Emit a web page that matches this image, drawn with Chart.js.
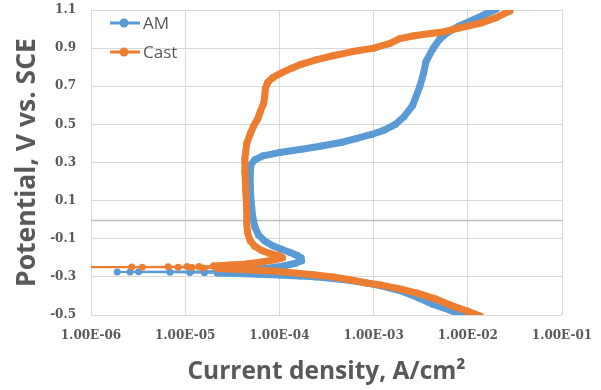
<!DOCTYPE html>
<html>
<head>
<meta charset="utf-8">
<title>Polarization curves</title>
<script src="https://cdn.jsdelivr.net/npm/chart.js@4.4.1/dist/chart.umd.min.js"></script>
<style>
  html, body { margin: 0; padding: 0; background: #ffffff; }
  #wrap { width: 601px; height: 390px; }
</style>
</head>
<body>
<div id="wrap"><canvas id="chart" width="601" height="390"></canvas></div>
<script>
// Potentiodynamic polarization data, in scan order (cathodic branch, then anodic branch)
const seriesNames = ['AM', 'Cast'];

const amCurrent = [
  9.0e-3, 6.5e-3, 4.3e-3, 3.0e-3, 1.9e-3, 1.2e-3, 8.5e-4, 5.5e-4, 3.7e-4, 2.4e-4,
  1.66e-4, 1.0e-4, 6.0e-5, 3.5e-5, 2.2e-5, 1.6e-5, 1.12e-5, 6.9e-6, 2.6e-6, 1.9e-6,
  3.2e-6, 1.15e-5, 1.6e-5, 2.3e-5, 3.5e-5, 5.5e-5, 8.0e-5, 1.1e-4, 1.45e-4, 1.72e-4,
  1.70e-4, 1.55e-4, 1.3e-4, 1.05e-4, 8.5e-5, 7.0e-5, 6.0e-5, 5.5e-5, 5.2e-5, 5.0e-5,
  4.9e-5, 4.9e-5, 5.0e-5, 5.5e-5, 6.7e-5, 1.0e-4, 1.66e-4, 2.7e-4, 4.5e-4, 6.5e-4,
  9.5e-4, 1.3e-3, 1.7e-3, 2.1e-3, 2.6e-3, 3.1e-3, 3.4e-3, 3.6e-3, 4.3e-3, 5.0e-3,
  6.0e-3, 8.0e-3, 1.1e-2, 1.5e-2, 2.0e-2
];
const amPotential = [
  -0.505, -0.475, -0.445, -0.41, -0.372, -0.347, -0.333, -0.318, -0.308, -0.300,
  -0.295, -0.290, -0.286, -0.282, -0.280, -0.278, -0.277, -0.276, -0.275, -0.274,
  -0.273, -0.272, -0.271, -0.269, -0.266, -0.261, -0.253, -0.243, -0.230, -0.215,
  -0.200, -0.188, -0.172, -0.155, -0.137, -0.112, -0.08, -0.04, 0.02, 0.10,
  0.18, 0.25, 0.29, 0.315, 0.335, 0.352, 0.368, 0.385, 0.405, 0.425,
  0.447, 0.47, 0.50, 0.54, 0.60, 0.70, 0.77, 0.83, 0.90, 0.945,
  0.98, 1.015, 1.045, 1.075, 1.105
];

const castCurrent = [
  1.35e-2, 1.0e-2, 6.5e-3, 4.5e-3, 2.9e-3, 1.8e-3, 1.2e-3, 8.5e-4, 5.6e-4, 3.7e-4,
  2.4e-4, 1.66e-4, 1.0e-4, 6.0e-5, 3.5e-5, 2.2e-5, 1.55e-5, 1.18e-5, 8.4e-6, 3.5e-6,
  4.0e-7, 2.7e-6, 6.6e-6, 1.05e-5, 1.4e-5, 2.0e-5, 3.0e-5, 4.5e-5, 6.5e-5, 9.0e-5,
  1.08e-4, 1.0e-4, 8.0e-5, 6.5e-5, 5.5e-5, 4.9e-5, 4.6e-5, 4.5e-5, 4.5e-5, 4.4e-5,
  4.3e-5, 4.3e-5, 4.5e-5, 4.9e-5, 5.3e-5, 5.9e-5, 6.3e-5, 6.8e-5, 7.0e-5, 7.1e-5,
  7.5e-5, 8.5e-5, 1.05e-4, 1.35e-4, 1.7e-4, 2.5e-4, 3.7e-4, 6.0e-4, 1.0e-3, 1.5e-3,
  1.9e-3, 2.7e-3, 4.0e-3, 5.5e-3, 8.0e-3, 1.35e-2, 2.0e-2, 2.8e-2
];
const castPotential = [
  -0.505, -0.48, -0.448, -0.415, -0.385, -0.36, -0.343, -0.332, -0.315, -0.30,
  -0.29, -0.282, -0.272, -0.265, -0.260, -0.256, -0.253, -0.251, -0.250, -0.249,
  -0.249, -0.248, -0.247, -0.246, -0.245, -0.243, -0.238, -0.232, -0.222, -0.210,
  -0.200, -0.190, -0.178, -0.162, -0.140, -0.11, -0.07, -0.02, 0.05, 0.15,
  0.25, 0.32, 0.40, 0.45, 0.49, 0.53, 0.57, 0.61, 0.65, 0.69,
  0.72, 0.745, 0.77, 0.795, 0.815, 0.84, 0.86, 0.882, 0.90, 0.925,
  0.95, 0.965, 0.977, 0.985, 1.005, 1.03, 1.06, 1.095
];

const xTickValues = [1e-6, 1e-5, 1e-4, 1e-3, 1e-2, 1e-1];
const xTickLabels = ['1.00E-06', '1.00E-05', '1.00E-04', '1.00E-03', '1.00E-02', '1.00E-01'];
const yTickValues = [-0.5, -0.3, -0.1, 0.1, 0.3, 0.5, 0.7, 0.9, 1.1];
const yTickLabels = ['-0.5', '-0.3', '-0.1', '0.1', '0.3', '0.5', '0.7', '0.9', '1.1'];

const seriesColors = ['#5B9BD5', '#ED7D31'];
const axisTextColor = '#595959';

function toPoints(xs, ys) {
  return xs.map((x, i) => ({ x: x, y: ys[i] }));
}

// Sparse readings near the corrosion potential are drawn with a thin line,
// the densely sampled parts of the scan merge into a thick band.
function segmentWidth(ctx) {
  return (ctx.p0.parsed.x < 2e-5 || ctx.p1.parsed.x < 2e-5) ? 2 : 7;
}

function makeDataset(label, xs, ys, color, order) {
  return {
    label: label,
    data: toPoints(xs, ys),
    borderColor: color,
    backgroundColor: color,
    borderWidth: 7,
    borderJoinStyle: 'round',
    borderCapStyle: 'round',
    pointRadius: 3.5,
    pointHoverRadius: 3.5,
    pointBorderWidth: 0,
    pointBackgroundColor: color,
    tension: 0,
    order: order,
    segment: { borderWidth: segmentWidth }
  };
}

// Horizontal reference line at 0 V
const zeroLine = {
  id: 'zeroLine',
  beforeDatasetsDraw(chart) {
    const { ctx, chartArea, scales } = chart;
    const y = Math.round(scales.y.getPixelForValue(0)) + 0.5;
    ctx.save();
    ctx.strokeStyle = '#bfbfbf';
    ctx.lineWidth = 1.5;
    ctx.beginPath();
    ctx.moveTo(chartArea.left, y);
    ctx.lineTo(chartArea.right, y);
    ctx.stroke();
    ctx.restore();
  }
};

// Legend inside the plot: line-with-marker symbol followed by the series name
const insideLegend = {
  id: 'insideLegend',
  afterDatasetsDraw(chart) {
    const { ctx, chartArea } = chart;
    const x0 = chartArea.left + 19;
    ctx.save();
    chart.data.datasets.forEach((ds, i) => {
      const y = chartArea.top + 13 + i * 29;
      ctx.strokeStyle = ds.borderColor;
      ctx.lineWidth = 3;
      ctx.beginPath();
      ctx.moveTo(x0, y);
      ctx.lineTo(x0 + 30, y);
      ctx.stroke();
      ctx.fillStyle = ds.borderColor;
      ctx.beginPath();
      ctx.arc(x0 + 14, y, 4.5, 0, Math.PI * 2);
      ctx.fill();
      ctx.fillStyle = axisTextColor;
      ctx.font = '500 17px "Open Sans"';
      ctx.textBaseline = 'middle';
      ctx.textAlign = 'left';
      ctx.fillText(ds.label, x0 + 33, y + 1);
    });
    ctx.restore();
  }
};

const tickFont = { family: 'DejaVu Serif', weight: 'bold', size: 12 };

new Chart(document.getElementById('chart'), {
  type: 'line',
  data: {
    datasets: [
      makeDataset(seriesNames[0], amCurrent, amPotential, seriesColors[0], 2),
      makeDataset(seriesNames[1], castCurrent, castPotential, seriesColors[1], 1)
    ]
  },
  options: {
    responsive: false,
    animation: false,
    events: [],
    layout: { padding: { top: 10, right: 39, left: 0, bottom: 0 } },
    plugins: {
      legend: { display: false },
      tooltip: { enabled: false }
    },
    scales: {
      x: {
        type: 'logarithmic',
        min: xTickValues[0],
        max: xTickValues[xTickValues.length - 1],
        afterBuildTicks(scale) { scale.ticks = xTickValues.map(v => ({ value: v })); },
        afterFit(scale) {
          scale.height = 75;
          scale.paddingLeft = 0;
          scale.paddingRight = 0;
        },
        grid: { color: '#d9d9d9', lineWidth: 1, drawTicks: false },
        border: { display: false },
        ticks: {
          autoSkip: false,
          maxRotation: 0,
          padding: 14,
          color: axisTextColor,
          font: tickFont,
          callback: (v, i) => xTickLabels[i]
        },
        title: {
          display: true,
          text: 'Current density, A/cm²',
          color: axisTextColor,
          font: { family: '"Open Sans"', weight: 'bold', size: 24.5 },
          padding: { top: 0, bottom: 3 }
        }
      },
      y: {
        type: 'linear',
        min: yTickValues[0],
        max: yTickValues[yTickValues.length - 1],
        afterBuildTicks(scale) { scale.ticks = yTickValues.map(v => ({ value: v })); },
        afterFit(scale) {
          scale.width = 91;
          scale.paddingTop = 0;
          scale.paddingBottom = 0;
        },
        grid: { color: '#d9d9d9', lineWidth: 1, drawTicks: false },
        border: { display: false },
        ticks: {
          autoSkip: false,
          padding: 15,
          color: axisTextColor,
          font: tickFont,
          callback: (v, i) => yTickLabels[i]
        },
        title: {
          display: true,
          text: 'Potential, V vs. SCE',
          color: axisTextColor,
          font: { family: '"Open Sans"', weight: 'bold', size: 26.5 },
          padding: { top: 12, bottom: 0 }
        }
      }
    }
  },
  plugins: [zeroLine, insideLegend]
});
</script>
</body>
</html>
